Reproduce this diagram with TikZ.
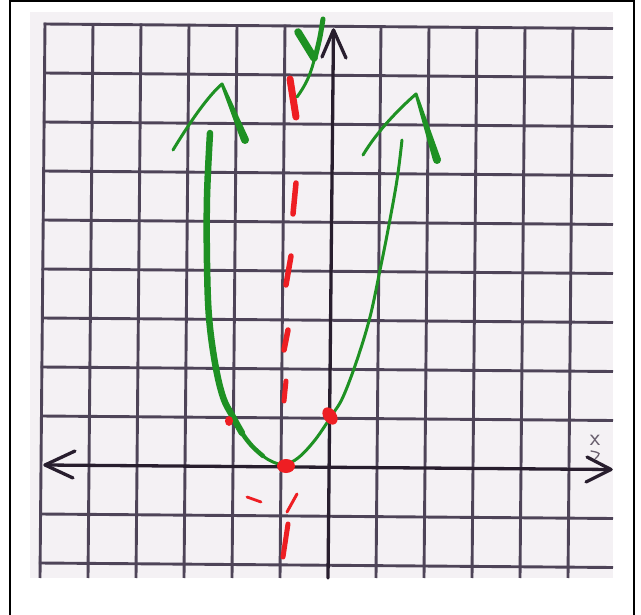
\documentclass[tikz,border=0pt]{standalone}
\definecolor{paper}{RGB}{244,241,244}
\definecolor{gridcol}{RGB}{78,68,88}
\definecolor{axiscol}{RGB}{40,30,46}
\definecolor{pengreen}{RGB}{30,145,35}
\definecolor{penred}{RGB}{238,30,35}
\definecolor{pencil}{RGB}{105,95,110}
\begin{document}
\begin{tikzpicture}[x=1pt,y=-1pt,
  gridline/.style={draw=gridcol, line width=2.9pt},
  axisline/.style={draw=axiscol, line width=3.3pt, line cap=round, line join=round},
  pen/.style={draw=pengreen, line cap=round, line join=round},
  redpen/.style={draw=penred, line cap=round},
  reddot/.style={fill=penred}]
\useasboundingbox (0,0) rectangle (641,615);
\fill[white] (0,0) rectangle (641,615);
\draw[line width=2pt] (10,617) -- (10,1.5) -- (634,1.5) -- (634,617);
\fill[paper] (30,12) rectangle (613,578);
% grid
\foreach \i in {0,...,5,7,8,9,10,11} {
  \draw[gridline] ({45+48*\i}, {22.7+0.384*\i}) -- ({40+48*\i}, 578);
}
\foreach \j in {0,...,8,10,11} {
  \draw[gridline] ({43.7-0.44*\j}, {24+49*\j}) -- (613, {28.5+49*\j});
}
% axes
\coordinate (ytip) at (333.5,30);
\coordinate (ybot) at (328,578);
\coordinate (xl) at (45,465);
\coordinate (xr) at (611,469.5);
\draw[axisline] (ybot) -- (ytip);
\draw[axisline] (322,57) -- (ytip) -- (346,58);
\draw[axisline] (xl) -- (xr);
\draw[axisline] (75,451) -- (xl) -- (73,478);
\draw[axisline] (587,457) -- (xr) -- (586,482);
\node[text=pencil, font=\sffamily\fontsize{24}{24}\selectfont, inner sep=0pt] (xlab) at (595,440) {x};
\draw[pencil, line width=1.3pt, line cap=round] (591,451) .. controls (601,453) .. (595,459);
% red axis of symmetry
\draw[redpen, line width=7pt] (290,79) -- (296,117);
\draw[redpen, line width=5.5pt] (296,183) -- (293,214);
\draw[redpen, line width=5.5pt] (291,256) -- (286,285);
\draw[redpen, line width=5.5pt] (288,330) -- (284,350);
\draw[redpen, line width=5pt] (286,381) -- (284,401);
\draw[redpen, line width=3pt] (297,494) -- (287,512);
\draw[redpen, line width=5pt] (288,524) -- (283,557);
\draw[redpen, line width=2.8pt] (247,497) -- (261,502);
% green parabola
\draw[pen, line width=6.5pt] plot[smooth, tension=0.6] coordinates {(210,133) (207,197) (207,263) (209,317) (215,363) (223,397) (233,417) (242,433)};
\draw[pen, line width=4.5pt] plot[smooth, tension=0.6] coordinates {(233,417) (242,433) (252,446) (263,456)};
\draw[pen, line width=3pt] plot[smooth, tension=0.6] coordinates {(252,446) (263,456) (273,462) (284,464.5) (298,458) (315,440) (332,415) (343,397) (357,360) (370,317) (380,270) (388,230) (397,180) (402,140)};
% green arrowheads
\draw[pen, line width=3pt] (173,150) .. controls (190,122) and (208,96) .. (222,84);
\fill[pengreen] (220.6,84.6) -- (223.4,83.4) -- (248.7,138.5) -- (241.3,141.5) -- cycle;
\fill[pengreen] (222,84) circle (1.6pt);
\fill[pengreen] (245,140) circle (4pt);
\draw[pen, line width=3pt] (363,155) .. controls (378,130) and (400,108) .. (416,94);
\fill[pengreen] (414.6,94.5) -- (417.4,93.5) -- (440.8,158.8) -- (433.2,161.2) -- cycle;
\fill[pengreen] (416,94) circle (1.6pt);
\fill[pengreen] (437,160) circle (4pt);
% green y
\draw[pen, line width=7.5pt] (298,32) -- (314,58);
\draw[pen, line width=5pt] (323,19) .. controls (320,38) .. (315,58);
\draw[pen, line width=3pt] (315,56) .. controls (311,75) and (305,86) .. (297,97);
% red points
\fill[reddot] (286,466) ellipse [x radius=9pt, y radius=7pt];
\fill[reddot, rotate around={35:(330,416)}] (330,416) ellipse [x radius=6.5pt, y radius=9.5pt];
\fill[reddot] (229,421) ellipse [x radius=4pt, y radius=5pt];
\end{tikzpicture}
\end{document}
